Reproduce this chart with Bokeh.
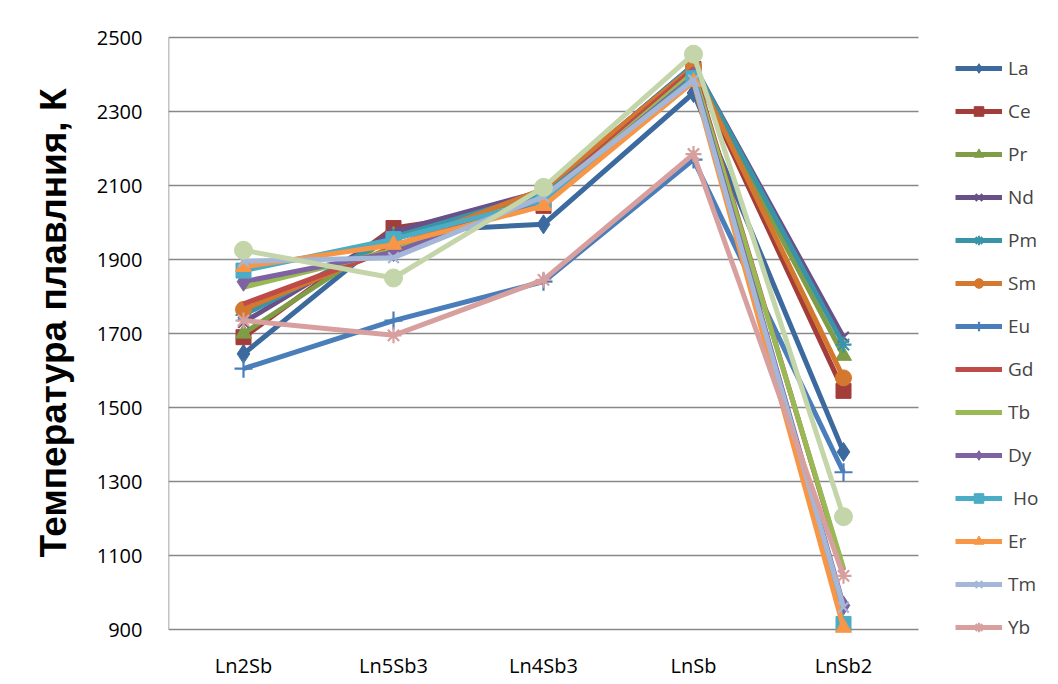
from bokeh.plotting import figure
from bokeh.models import Legend, LegendItem, FixedTicker, Range1d
from bokeh.embed import file_html
from bokeh.resources import INLINE

categories = ["Ln2Sb", "Ln5Sb3", "Ln4Sb3", "LnSb", "LnSb2"]
y_ticks = [900, 1100, 1300, 1500, 1700, 1900, 2100, 2300, 2500]

La = [1645, 1975, 1995, 2350, 1380]
Ce = [1690, 1985, 2045, 2415, 1545]
Pr = [1700, 1965, 2075, 2410, 1640]
Nd = [1730, 1975, 2085, 2425, 1690]
Pm = [1750, 1960, 2080, 2425, 1670]
Sm = [1765, 1935, 2090, 2420, 1580]
Eu = [1605, 1735, 1840, 2170, 1325]
Gd = [1780, 1930, 2065, 2415, 1060]
Tb = [1825, 1925, 2060, 2405, 1065]
Dy = [1840, 1920, 2060, 2395, 965]
Ho = [1870, 1955, 2060, 2390, 915]
Er = [1880, 1940, 2045, 2380, 905]
Tm = [1895, 1905, 2070, 2385, 960]
Yb = [1735, 1695, 1845, 2185, 1045]
Lu = [1925, 1850, 2095, 2455, 1205]

series = [
    ("La", La, "#3C6A9E", "diamond", 19),
    ("Ce", Ce, "#A33D3A", "square", 15),
    ("Pr", Pr, "#7F9C47", "triangle", 16),
    ("Nd", Nd, "#6A5089", "x", 15),
    ("Pm", Pm, "#3994A8", "asterisk", 16),
    ("Sm", Sm, "#D4772F", "circle", 16),
    ("Eu", Eu, "#4A7EBB", "cross", 18),
    ("Gd", Gd, "#BE4B48", None, 0),
    ("Tb", Tb, "#98B954", None, 0),
    ("Dy", Dy, "#7E62A1", "diamond", 19),
    (" Ho", Ho, "#4BACC6", "square", 15),
    ("Er", Er, "#F79646", "triangle", 16),
    ("Tm", Tm, "#A5B7D8", "x", 15),
    ("Yb", Yb, "#D7A09F", "asterisk", 16),
    ("Lu", Lu, "#C3D5A9", "circle", 18),
]

n = len(categories)
xs = [i + 0.5 for i in range(n)]
px_per_cat = 150.0
px_per_unit = 0.37
frame_w = 1058 - 168
x_end = frame_w / px_per_cat
y_start = y_ticks[0] - 16 / px_per_unit
y_end = y_ticks[-1] + 37 / px_per_unit

p = figure(x_range=Range1d(0, x_end), y_range=Range1d(y_start, y_end),
           width=1058, height=684, output_backend="svg", toolbar_location=None,
           min_border_left=168, min_border_right=0, min_border_top=0, min_border_bottom=39)
p.outline_line_color = None
p.background_fill_color = "white"
p.border_fill_color = "white"

# horizontal gridlines spanning only the category area, and the value-axis line
p.segment(x0=[0] * len(y_ticks), x1=[n] * len(y_ticks), y0=y_ticks, y1=y_ticks,
          line_color="#888888", line_width=1.5)
p.segment(x0=[0], x1=[0], y0=[y_ticks[0]], y1=[y_ticks[-1]],
          line_color="#888888", line_width=1.5)

items = []
for name, vals, color, marker, size in series:
    rs = []
    l = p.line(xs, vals, line_color=color, line_width=5)
    rs.append(l)
    if marker:
        if marker in ("x", "asterisk", "cross"):
            s = p.scatter(xs, vals, marker=marker, size=size, line_color=color,
                          line_width=2.2, fill_color=color)
        else:
            s = p.scatter(xs, vals, marker=marker, size=size, line_color=color,
                          fill_color=color)
        rs.append(s)
    if name != "Lu":
        items.append(LegendItem(label=name, renderers=rs))

p.yaxis.ticker = FixedTicker(ticks=y_ticks)
p.yaxis.bounds = (y_ticks[0], y_end + 20 / px_per_unit)
p.xaxis.ticker = FixedTicker(ticks=xs)
p.xaxis.major_label_overrides = {x: c for x, c in zip(xs, categories)}
for ax in (p.xaxis[0], p.yaxis[0]):
    ax.axis_line_color = None
    ax.major_tick_line_color = None
    ax.minor_tick_line_color = None
    ax.major_label_text_font = "Open Sans"
    ax.major_label_text_font_size = "20px"
    ax.major_label_text_color = "black"
p.yaxis.major_label_standoff = 20
p.xaxis.major_label_standoff = 0
p.yaxis.axis_label = "Температура плавлния, К"
p.yaxis.axis_label_text_font = "Liberation Sans"
p.yaxis.axis_label_text_font_style = "bold"
p.yaxis.axis_label_text_font_size = "37px"
p.yaxis.axis_label_text_color = "black"
p.yaxis.axis_label_standoff = 20

p.xgrid.visible = False
p.ygrid.visible = False

legend = Legend(items=items, location=(787, 5), glyph_width=47, glyph_height=24,
                label_height=24, spacing=17, padding=0, margin=0,
                border_line_color=None, background_fill_alpha=0,
                label_text_font="Open Sans", label_text_font_size="19px",
                label_standoff=6)
p.add_layout(legend)

open("out.html", "w").write(file_html(p, INLINE))
